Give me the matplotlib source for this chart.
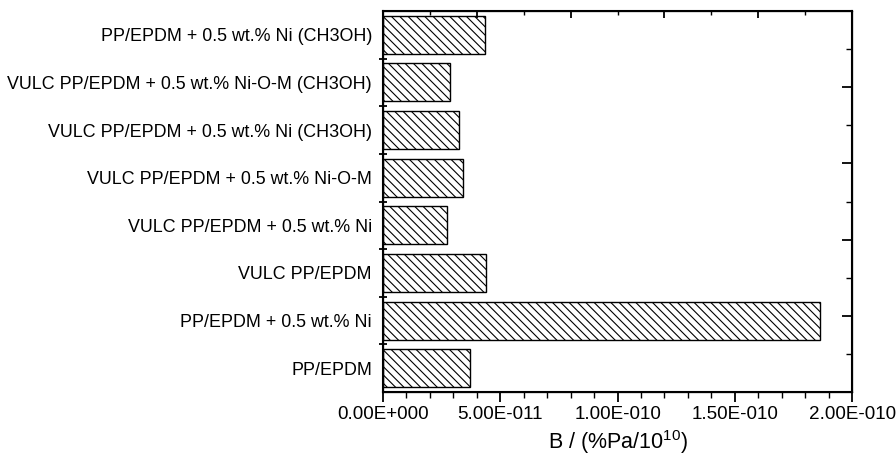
import numpy as np
import matplotlib
matplotlib.use("Agg")
import matplotlib.pyplot as plt
from matplotlib.ticker import FuncFormatter, MultipleLocator

plt.rcParams["font.family"] = ["Liberation Sans", "DejaVu Sans"]
plt.rcParams["mathtext.default"] = "regular"
plt.rcParams["hatch.linewidth"] = 0.8

# samples, bottom to top
samples = [
    "PP/EPDM",
    "PP/EPDM + 0.5 wt.% Ni",
    "VULC PP/EPDM",
    "VULC PP/EPDM + 0.5 wt.% Ni",
    "VULC PP/EPDM + 0.5 wt.% Ni-O-M",
    "VULC PP/EPDM + 0.5 wt.% Ni (CH3OH)",
    "VULC PP/EPDM + 0.5 wt.% Ni-O-M (CH3OH)",
    "PP/EPDM + 0.5 wt.% Ni (CH3OH)",
]
b_values = [3.69e-11, 1.863e-10, 4.41e-11, 2.71e-11, 3.41e-11, 3.22e-11, 2.86e-11, 4.33e-11]
x_ticks = [0.0, 5e-11, 1e-10, 1.5e-10, 2e-10]


def origin_fmt(v, pos):
    # Origin style: 5.00E-011
    if v == 0:
        return "0.00E+000"
    exp = int(np.floor(np.log10(abs(v))))
    mant = v / 10.0 ** exp
    sign = "-" if exp < 0 else "+"
    return f"{mant:.2f}E{sign}{abs(exp):03d}"


fig = plt.figure(figsize=(8.96, 4.59), dpi=100)
ax = fig.add_axes([0.4275, 0.146, 0.5235, 0.830])

y = np.arange(len(samples))
ax.barh(y, b_values, height=0.8, color="white", edgecolor="black",
        linewidth=1.0, hatch="\\\\\\\\")

ax.set_xlim(0, 2e-10)
ax.set_ylim(-0.5, len(samples) - 0.5)
ax.set_xticks(x_ticks)
ax.xaxis.set_minor_locator(MultipleLocator(1e-11))
ax.xaxis.set_major_formatter(FuncFormatter(origin_fmt))
ax.set_yticks(y)
ax.set_yticklabels(samples)
ax.set_yticks(np.arange(0.5, len(samples) - 1, 1.0), minor=True)

ax.tick_params(axis="x", which="major", direction="out", length=7, width=1.3, labelsize=13.6, pad=3)
ax.tick_params(axis="x", which="minor", direction="out", length=4, width=1.0)
ax.tick_params(axis="y", which="major", length=0, labelsize=12.9, pad=8)
ax.tick_params(axis="y", which="minor", direction="inout", length=6, width=1.3)

for s in ax.spines.values():
    s.set_linewidth(1.5)

ax.set_xlabel("B / (%Pa/10$^{10}$)", fontsize=15.5, labelpad=4)

# mirror ticks on top and right, no labels
axr = ax.twinx()
axr.set_ylim(0, 1)
axr.yaxis.set_major_locator(MultipleLocator(0.2))
axr.yaxis.set_minor_locator(MultipleLocator(0.1))
axr.tick_params(axis="y", which="major", direction="in", length=7, width=1.3, labelright=False)
axr.tick_params(axis="y", which="minor", direction="in", length=4, width=1.0)

axt = ax.twiny()
axt.set_xlim(0, 1)
axt.xaxis.set_major_locator(MultipleLocator(0.2))
axt.xaxis.set_minor_locator(MultipleLocator(0.1))
axt.tick_params(axis="x", which="major", direction="in", length=5, width=1.3, labeltop=False)
axt.tick_params(axis="x", which="minor", direction="in", length=3, width=1.0)

fig.savefig("out.png", dpi=100)
